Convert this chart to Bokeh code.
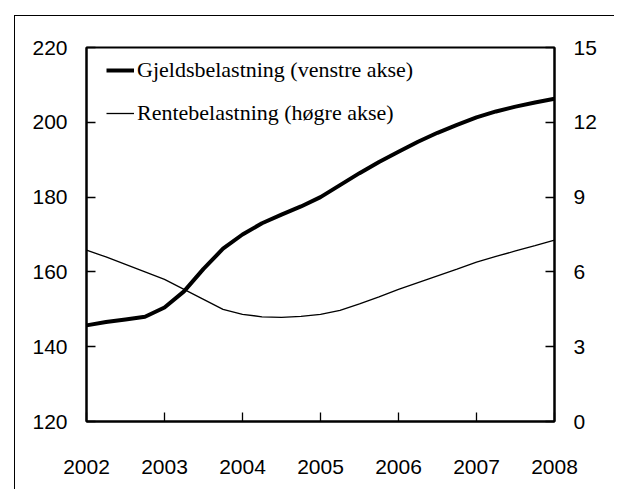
from bokeh.plotting import figure
from bokeh.models import LinearAxis, Range1d, FixedTicker, Legend, LegendItem
from bokeh.embed import file_html
from bokeh.resources import INLINE

# Quarterly observations 2002Q1 .. 2008Q1
quarters = [2002.00, 2002.25, 2002.50, 2002.75,
            2003.00, 2003.25, 2003.50, 2003.75,
            2004.00, 2004.25, 2004.50, 2004.75,
            2005.00, 2005.25, 2005.50, 2005.75,
            2006.00, 2006.25, 2006.50, 2006.75,
            2007.00, 2007.25, 2007.50, 2007.75,
            2008.00]
gjeldsbelastning = [145.7, 146.6, 147.3, 148.0,
                    150.5, 154.8, 160.8, 166.2,
                    170.0, 173.0, 175.3, 177.5,
                    180.0, 183.2, 186.4, 189.4,
                    192.1, 194.8, 197.2, 199.3,
                    201.3, 202.9, 204.2, 205.3,
                    206.3]
rentebelastning = [6.87, 6.60, 6.30, 6.00,
                   5.70, 5.30, 4.90, 4.50,
                   4.30, 4.20, 4.18, 4.22,
                   4.30, 4.46, 4.72, 5.00,
                   5.30, 5.57, 5.84, 6.11,
                   6.39, 6.62, 6.84, 7.05,
                   7.27]
x_ticks = [2002, 2003, 2004, 2005, 2006, 2007, 2008]
left_ticks = [120, 140, 160, 180, 200, 220]
right_ticks = [0, 3, 6, 9, 12, 15]
label_gjeld = "Gjeldsbelastning (venstre akse)"
label_rente = "Rentebelastning (høgre akse)"

TICK_FONT = "'Liberation Sans'"
TICK_SIZE = "21px"

p = figure(width=600, height=474, output_backend="svg", toolbar_location=None,
           x_range=Range1d(2002, 2008), y_range=Range1d(120, 220),
           min_border_left=71, min_border_right=61, min_border_top=31,
           min_border_bottom=69)
p.margin = (15, 0, 0, 14)
p.styles = {"border-top": "1px solid black", "border-left": "1px solid black"}
p.extra_y_ranges = {"right": Range1d(0, 15)}

p.grid.visible = False
p.outline_line_color = "black"
p.outline_line_width = 2
p.background_fill_color = "white"
p.border_fill_color = "white"

r1 = p.line(quarters, gjeldsbelastning, line_color="black", line_width=4)
r2 = p.line(quarters, rentebelastning, line_color="black", line_width=1.3,
            y_range_name="right")

right_axis = LinearAxis(y_range_name="right")
p.add_layout(right_axis, "right")

p.xaxis.ticker = FixedTicker(ticks=x_ticks)
p.yaxis[0].ticker = FixedTicker(ticks=left_ticks)
right_axis.ticker = FixedTicker(ticks=right_ticks)

for ax in p.xaxis + p.yaxis:
    ax.axis_line_width = 2
    ax.axis_line_color = "black"
    ax.major_tick_in = 9
    ax.major_tick_out = 0
    ax.minor_tick_line_color = None
    ax.major_tick_line_width = 1.3
    ax.major_label_text_font = TICK_FONT
    ax.major_label_text_font_size = TICK_SIZE
    ax.major_label_text_color = "black"
    ax.major_label_standoff = 19
p.xaxis.major_label_standoff = 38

legend = Legend(items=[LegendItem(label=label_gjeld, renderers=[r1]),
                       LegendItem(label=label_rente, renderers=[r2])],
                location=(20, 295))
legend.margin = 0
legend.padding = 0
legend.spacing = 17
legend.glyph_width = 28
legend.glyph_height = 20
legend.label_height = 20
legend.label_standoff = 3
legend.label_text_font = "'Liberation Serif'"
legend.label_text_font_size = "22px"
legend.label_text_color = "black"
legend.background_fill_alpha = 0
legend.border_line_alpha = 0
p.add_layout(legend, "center")

open("out.html", "w").write(file_html(p, INLINE))
